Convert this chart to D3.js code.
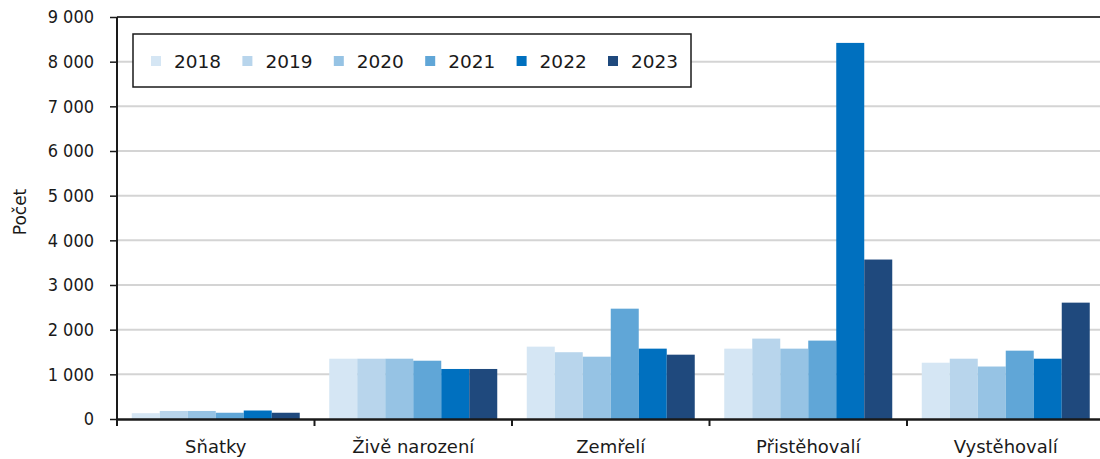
<!DOCTYPE html>
<html>
<head>
<meta charset="utf-8">
<script src="https://cdn.jsdelivr.net/npm/d3@7"></script>
<style>
  body { margin: 0; background: #fff; overflow: hidden; }
  text { font-family: "DejaVu Sans", sans-serif; fill: #1a1a1a; }
</style>
</head>
<body>
<div id="chart"></div>
<script>
// data
var categories = ["Sňatky", "Živě narození", "Zemřelí", "Přistěhovalí", "Vystěhovalí"];
var years = ["2018", "2019", "2020", "2021", "2022", "2023"];
var v2018 = [130, 1350, 1620, 1575, 1260];
var v2019 = [180, 1350, 1495, 1800, 1350];
var v2020 = [180, 1350, 1395, 1575, 1175];
var v2021 = [140, 1305, 2470, 1755, 1530];
var v2022 = [190, 1120, 1575, 8420, 1350];
var v2023 = [140, 1120, 1440, 3570, 2605];
var yTicks = [0, 1000, 2000, 3000, 4000, 5000, 6000, 7000, 8000, 9000];
var colors = ["#d5e6f4", "#b8d5ec", "#96c3e4", "#60a6d7", "#0070bf", "#1f497d"];

var series = [v2018, v2019, v2020, v2021, v2022, v2023];

var svgWidth = 1100;
var svgHeight = 459;
var margin = { top: 17, bottom: 40, left: 117 };
var width = 987.5; // plot runs past the right edge in the original
var height = svgHeight - margin.top - margin.bottom;

var svg = d3.select("#chart")
  .append("svg")
  .attr("width", svgWidth)
  .attr("height", svgHeight);

var chartGroup = svg.append("g")
  .attr("transform", `translate(${margin.left}, ${margin.top})`);

// scales
var x0 = d3.scaleBand()
  .domain(categories)
  .range([0, width]);

var x1 = d3.scaleBand()
  .domain(years)
  .range([14.75, x0.bandwidth() - 14.75]);

var y = d3.scaleLinear()
  .domain([0, 9000])
  .range([height, 0]);

// gridlines
chartGroup.append("g")
  .selectAll("line")
  .data(yTicks.slice(1, -1))
  .enter()
  .append("line")
  .attr("x1", 0)
  .attr("x2", width)
  .attr("y1", d => y(d))
  .attr("y2", d => y(d))
  .attr("stroke", "#d4d4d4")
  .attr("stroke-width", 2);

// top border line
chartGroup.append("line")
  .attr("x1", 0)
  .attr("x2", width)
  .attr("y1", y(9000))
  .attr("y2", y(9000))
  .attr("stroke", "#404040")
  .attr("stroke-width", 2);

// bars
var rows = categories.map(function(c, i) {
  return { cat: c, vals: years.map(function(yr, j) { return { year: yr, value: series[j][i], color: colors[j] }; }) };
});

var groups = chartGroup.selectAll(".grp")
  .data(rows)
  .enter()
  .append("g")
  .attr("class", "grp")
  .attr("transform", d => `translate(${x0(d.cat)}, 0)`);

groups.selectAll("rect")
  .data(d => d.vals)
  .enter()
  .append("rect")
  .attr("x", d => x1(d.year))
  .attr("y", d => y(d.value))
  .attr("width", x1.bandwidth())
  .attr("height", d => height - y(d.value))
  .attr("fill", d => d.color);

// axes
var leftAxis = d3.axisLeft(y)
  .tickValues(yTicks)
  .tickSize(7)
  .tickPadding(16)
  .tickFormat(d => d3.format(",")(d).replace(/,/g, " "));

var yAxisG = chartGroup.append("g").call(leftAxis);
yAxisG.select(".domain").attr("stroke", "#1a1a1a").attr("stroke-width", 2).attr("d", `M0,${y(9000)}V${height}`);
yAxisG.selectAll(".tick line").attr("stroke", "#1a1a1a").attr("stroke-width", 1.5);
yAxisG.selectAll("text")
  .style("font-size", "18px")
  .style("font-family", "'DejaVu Sans Condensed', 'DejaVu Sans', sans-serif")
  .attr("fill", "#1a1a1a");

var bottomAxis = d3.axisBottom(x0).tickSize(0).tickPadding(21);
var xAxisG = chartGroup.append("g")
  .attr("transform", `translate(0, ${height})`)
  .call(bottomAxis);
xAxisG.select(".domain").attr("stroke", "#1a1a1a").attr("stroke-width", 2.5);
xAxisG.selectAll("text").style("font-size", "18px").attr("fill", "#1a1a1a");

// category separators
chartGroup.append("g")
  .selectAll("line")
  .data(categories)
  .enter()
  .append("line")
  .attr("x1", d => x0(d))
  .attr("x2", d => x0(d))
  .attr("y1", height)
  .attr("y2", height + 7)
  .attr("stroke", "#1a1a1a")
  .attr("stroke-width", 2);

// y label
chartGroup.append("text")
  .attr("transform", "rotate(-90)")
  .attr("x", -height / 2 + 6)
  .attr("y", -margin.left + 26)
  .attr("text-anchor", "middle")
  .style("font-size", "17px")
  .text("Počet");

// legend
var legend = svg.append("g").attr("transform", "translate(133, 34)");
legend.append("rect")
  .attr("width", 558)
  .attr("height", 53)
  .attr("fill", "#fff")
  .attr("stroke", "#1a1a1a")
  .attr("stroke-width", 1.5);

var items = legend.selectAll(".item")
  .data(years)
  .enter()
  .append("g")
  .attr("class", "item")
  .attr("transform", (d, i) => `translate(${18 + i * 91.4}, 27)`);

items.append("rect")
  .attr("x", 0)
  .attr("y", -5)
  .attr("width", 10)
  .attr("height", 10)
  .attr("fill", (d, i) => colors[i]);

items.append("text")
  .attr("x", 23)
  .attr("dy", "0.36em")
  .style("font-size", "18.5px")
  .text(d => d);
</script>
</body>
</html>
